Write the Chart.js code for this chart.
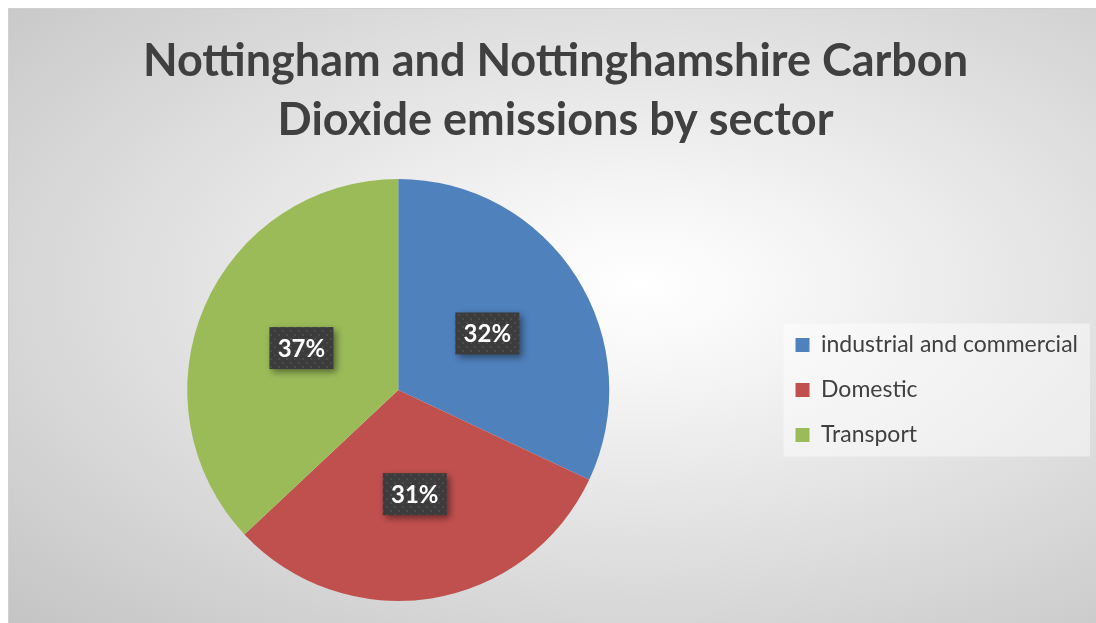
<!DOCTYPE html>
<html>
<head>
<meta charset="utf-8">
<script src="https://cdn.jsdelivr.net/npm/chart.js@4.4.0/dist/chart.umd.min.js"></script>
<style>
  html, body { margin: 0; padding: 0; background: #fff; }
  #wrap {
    position: absolute; left: 8px; top: 8px; width: 1088px; height: 615px;
    border-left: 1px solid #d0d0d0; border-top: 1px solid #d0d0d0;
    background: radial-gradient(ellipse farthest-corner at 58% 45%, #ffffff 0%, #f6f6f6 18%, #c4c4c4 100%);
  }
</style>
</head>
<body>
<div id="wrap"><canvas id="myPie"></canvas></div>
<script>
const sectors = ['industrial and commercial', 'Domestic', 'Transport']
const shares = [32, 31, 37]
const titleLines = ['Nottingham and Nottinghamshire Carbon', 'Dioxide emissions by sector']
const sliceColors = ['#4f81bd', '#c0504d', '#9bbb59']

// dotted dark fill used behind the percentage labels
function dotPattern(ctx) {
  const c = document.createElement('canvas')
  c.width = 8; c.height = 8
  const p = c.getContext('2d')
  p.fillStyle = '#3c3c3c'
  p.fillRect(0, 0, 8, 8)
  p.fillStyle = '#4a4a4a'
  p.fillRect(1, 1, 2, 2)
  p.fillRect(5, 5, 2, 2)
  return ctx.createPattern(c, 'repeat')
}

const legendBack = {
  id: 'legendBack',
  beforeDraw(chart) {
    const boxes = chart.legend.legendHitBoxes
    if (!boxes || !boxes.length) return
    let l = Infinity, t = Infinity, r = -Infinity, b = -Infinity
    boxes.forEach(h => {
      l = Math.min(l, h.left); t = Math.min(t, h.top)
      r = Math.max(r, h.left + h.width); b = Math.max(b, h.top + h.height)
    })
    const ctx = chart.ctx
    ctx.save()
    ctx.fillStyle = 'rgba(255,255,255,0.45)'
    ctx.fillRect(l - 12, t - 10, r - l + 24, b - t + 20)
    ctx.restore()
  }
}

const pctLabels = {
  id: 'pctLabels',
  afterDatasetsDraw(chart) {
    const ctx = chart.ctx
    const meta = chart.getDatasetMeta(0)
    const fill = dotPattern(ctx)
    meta.data.forEach((arc, i) => {
      const pos = arc.tooltipPosition()
      const w = 64, h = 42
      ctx.save()
      ctx.shadowColor = 'rgba(0,0,0,0.45)'
      ctx.shadowBlur = 7
      ctx.shadowOffsetX = 3
      ctx.shadowOffsetY = 3
      ctx.fillStyle = fill
      ctx.fillRect(pos.x - w / 2, pos.y - h / 2, w, h)
      ctx.restore()
      ctx.save()
      ctx.fillStyle = '#ffffff'
      ctx.font = 'bold 24px Lato'
      ctx.textAlign = 'center'
      ctx.textBaseline = 'middle'
      ctx.fillText(shares[i] + '%', pos.x, pos.y + 1)
      ctx.restore()
    })
  }
}

const ctx = document.getElementById('myPie')
const chart = new Chart(ctx, {
  type: 'pie',
  data: {
    labels: sectors,
    datasets: [{
      data: shares,
      backgroundColor: sliceColors,
      borderWidth: 0
    }]
  },
  options: {
    responsive: true,
    maintainAspectRatio: false,
    animation: false,
    layout: { padding: { left: 14, right: 9, top: 0, bottom: 23 } },
    plugins: {
      tooltip: { enabled: false },
      title: {
        display: true,
        text: titleLines,
        color: '#404040',
        font: { family: 'Lato', size: 45, weight: 'bold', lineHeight: 1.333 },
        padding: { top: 22, bottom: 28 }
      },
      legend: {
        position: 'right',
        fullSize: false,
        labels: {
          color: '#404040',
          font: { family: 'Lato', size: 23 },
          boxWidth: 14,
          boxHeight: 14,
          padding: 22
        }
      }
    }
  },
  plugins: [legendBack, pctLabels]
})
</script>
</body>
</html>
